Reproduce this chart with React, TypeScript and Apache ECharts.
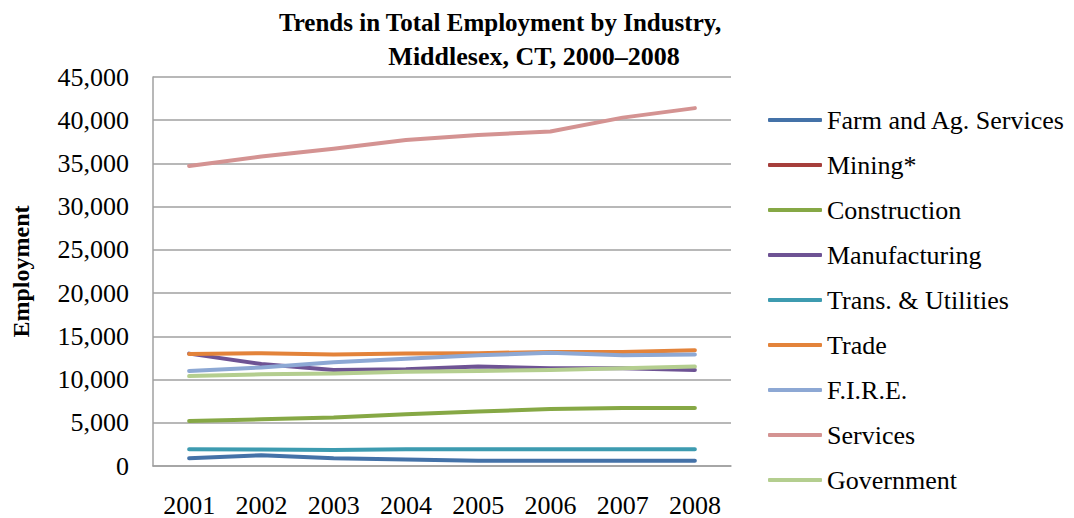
import React, { useEffect, useRef } from "react";
import * as echarts from "echarts";

const years = ["2001", "2002", "2003", "2004", "2005", "2006", "2007", "2008"];
const seriesNames = [
  "Farm and Ag. Services",
  "Mining*",
  "Construction",
  "Manufacturing",
  "Trans. & Utilities",
  "Trade",
  "F.I.R.E.",
  "Services",
  "Government",
];
const farm = [900, 1250, 900, 750, 600, 600, 600, 600];
const mining: (number | null)[] = [null, null, null, null, null, null, null, null];
const construction = [5200, 5400, 5600, 6000, 6300, 6600, 6700, 6700];
const manufacturing = [13000, 11800, 11100, 11200, 11500, 11300, 11300, 11100];
const transUtilities = [1950, 1900, 1850, 1950, 1950, 1950, 1950, 1950];
const trade = [12950, 13050, 12900, 13000, 13050, 13200, 13200, 13400];
const fire = [11000, 11400, 12000, 12400, 12800, 13100, 12800, 12900];
const services = [34700, 35800, 36700, 37700, 38300, 38700, 40300, 41400];
const government = [10400, 10600, 10700, 10900, 11000, 11100, 11300, 11500];

const colors = [
  "#4472A8",
  "#A63E3B",
  "#86A845",
  "#6E5394",
  "#3D9BB0",
  "#E3833A",
  "#8DA8D4",
  "#D49392",
  "#B4CE8F",
];

const dataList = [farm, mining, construction, manufacturing, transUtilities, trade, fire, services, government];

export default function App() {
  const ref = useRef<HTMLDivElement>(null);
  useEffect(() => {
    if (!ref.current) return;
    const chart = echarts.init(ref.current, null, { renderer: "svg" });
    const font = "'Liberation Serif', 'Times New Roman', serif";
    chart.setOption({
      animation: false,
      backgroundColor: "#ffffff",
      title: [
        {
          text: "Trends in Total Employment by Industry,",
          left: 495,
          top: 5,
          textAlign: "center",
          textStyle: { fontFamily: font, fontSize: 25, fontWeight: "bold", color: "#000" },
        },
        {
          text: "Middlesex, CT, 2000–2008",
          left: 529,
          top: 38,
          textAlign: "center",
          textStyle: { fontFamily: font, fontSize: 26, fontWeight: "bold", color: "#000" },
        },
      ],
      legend: {
        orient: "vertical",
        left: 768,
        top: 107,
        padding: 0,
        itemGap: 19,
        itemWidth: 54,
        itemHeight: 4,
        icon: "roundRect",
        data: seriesNames,
        textStyle: { fontFamily: font, fontSize: 26, lineHeight: 26, color: "#000" },
      },
      grid: {
        left: 153,
        right: 343,
        top: 77,
        bottom: 52,
        containLabel: false,
        outerBoundsMode: "none",
      },
      xAxis: {
        type: "category",
        data: years,
        boundaryGap: true,
        axisLine: { lineStyle: { color: "#A0A0A0", width: 1.5 } },
        axisTick: { show: false },
        axisLabel: { fontFamily: font, fontSize: 26, color: "#000", margin: 26 },
      },
      yAxis: {
        type: "value",
        min: 0,
        max: 45000,
        interval: 5000,
        name: "Employment",
        nameLocation: "middle",
        nameGap: 120,
        nameRotate: 90,
        nameTextStyle: { fontFamily: font, fontSize: 24, fontWeight: "bold", color: "#000" },
        axisLine: { show: true, lineStyle: { color: "#A0A0A0", width: 1.5 } },
        axisTick: { show: false },
        splitLine: { lineStyle: { color: "#A0A0A0", width: 1.5 } },
        axisLabel: {
          fontFamily: font,
          fontSize: 26,
          color: "#000",
          margin: 24,
          formatter: (v: number) => v.toLocaleString("en-US"),
        },
      },
      series: seriesNames.map((name, i) => ({
        name,
        type: "line",
        data: dataList[i],
        showSymbol: false,
        symbol: "none",
        color: colors[i],
        lineStyle: { width: 4, color: colors[i], cap: "round", join: "round" },
        z: i === 1 ? 1 : 2,
      })),
    });
    return () => chart.dispose();
  }, []);
  return (
    <div
      ref={ref}
      style={{ position: "absolute", left: 0, top: 0, width: 1074, height: 518 }}
    />
  );
}
